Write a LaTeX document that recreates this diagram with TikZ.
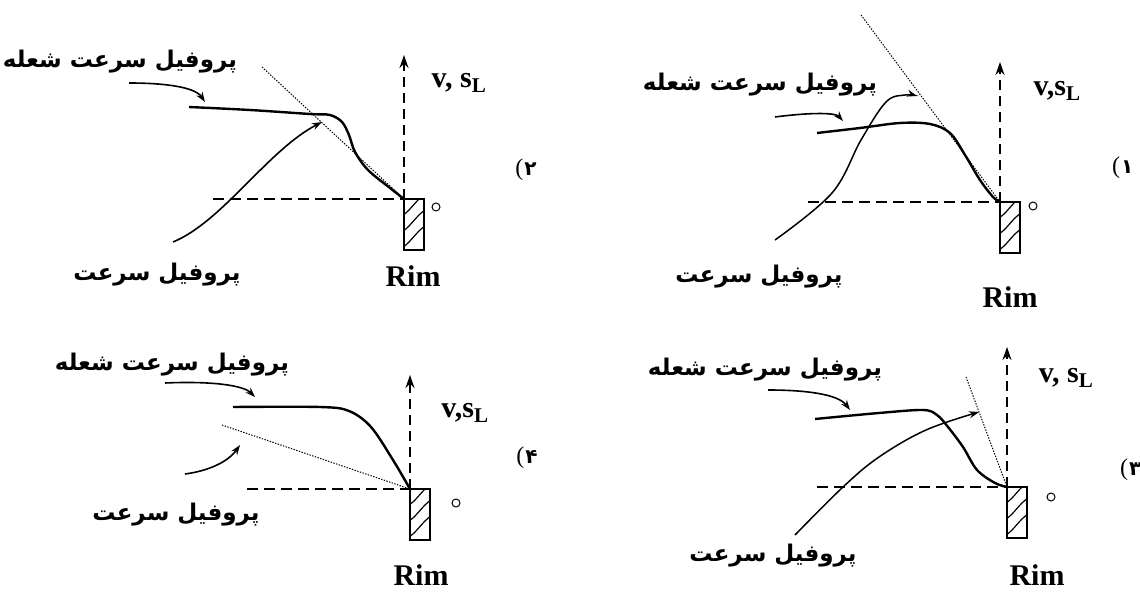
\documentclass[tikz,border=0pt]{standalone}
\usepackage{fontspec}
\setmainfont{Liberation Serif}
\newfontfamily\arabicfont[Script=Arabic]{DejaVu Sans}
\TeXXeTstate=1
\usetikzlibrary{arrows.meta}
\tikzset{
  axisline/.style={line width=1.5pt, dash pattern=on 10pt off 6pt, -{Stealth[length=13pt,width=9pt]}},
  hline/.style={line width=1.5pt, dash pattern=on 11pt off 6pt},
  flame/.style={line width=2.4pt},
  velo/.style={line width=1.5pt},
  tang/.style={line width=1pt, dash pattern=on 1.4pt off 1.4pt},
  lab/.style={line width=1.6pt, -{Stealth[length=10pt,width=7pt]}},
  fa/.style={font=\arabicfont\bfseries\fontsize{23}{27}\selectfont, inner sep=0pt},
  en/.style={font=\bfseries\fontsize{30}{34}\selectfont, inner sep=0pt},
  num/.style={font=\fontsize{24}{28}\selectfont, inner sep=0pt},
  rimrect/.style={draw, line width=1.4pt, minimum width=20pt, minimum height=51pt, inner sep=0pt, outer sep=0pt},
  zero/.style={circle, draw, line width=1pt, minimum size=8pt, inner sep=0pt}
}
\newcommand\rimbox[3]{%
  \node[rimrect, anchor=north west] (#3) at (#1,#2) {};
  \begin{scope}
    \clip (#1,#2) rectangle (#1+20,#2+51);
    \foreach \k in {16,32,48}
      \draw[line width=1.2pt] (#1-1,#2+\k) .. controls (#1+7,#2+\k-5) and (#1+12,#2+\k-15) .. (#1+21,#2+\k-21);
  \end{scope}}
\newcommand\fadigit[1]{(\kern1pt{\arabicfont\bfseries\fontsize{20}{24}\selectfont #1}}
\begin{document}
\begin{tikzpicture}[x=1pt,y=-1pt]
\clip (0,0) rectangle (1140,593);
\fill[white] (0,0) rectangle (1140,593);

% ---------------- Panel (2) top-left
\rimbox{404}{199}{rimA}
\coordinate (topA) at (404,55);
\coordinate (hA) at (213,199);
\draw[axisline] (rimA.north west) -- (topA);
\draw[hline] (hA) -- (rimA.north west);
\draw[tang] (262,67) -- (rimA.north west);
\draw[flame] plot[smooth,tension=0.55] coordinates {(189,107) (250,110) (310,114) (330,115) (342,122) (349,135) (355,152) (368,170) (390,188) (404,199)};
\coordinate (vsA) at (173,242);
\coordinate (veA) at (322,122);
\draw[lab] (vsA) .. controls (222,222) and (268,150) .. (veA);
\node[fa] (fA1) at (120,62) {\beginR پروفیل سرعت شعله\endR};
\node[fa] (fA2) at (157,275) {\beginR پروفیل سرعت\endR};
\coordinate (lsA) at (129,83);
\coordinate (leA) at (205,102);
\draw[lab] (lsA) .. controls (165,83) and (195,87) .. (leA);
\node[en] (vA) at (459,83) {v, s\textsubscript{L}};
\node[en] (RA) at (413,276) {Rim};
\node[zero] (zA) at (436,207) {};
\node[num] (nA) at (526,170) {\fadigit{۲}};

% ---------------- Panel (1) top-right
\rimbox{1000}{202}{rimB}
\coordinate (topB) at (1000,62);
\coordinate (hB) at (808,202);
\draw[axisline] (rimB.north west) -- (topB);
\draw[hline] (hB) -- (rimB.north west);
\draw[tang] (861,15) -- (rimB.north west);
\draw[flame] plot[smooth,tension=0.55] coordinates {(817,133) (860,128) (900,123) (930,124) (950,133) (965,155) (980,180) (993,197) (1000,202)};
\draw[velo,-{Stealth[length=10pt,width=7pt]}] plot[smooth,tension=0.6] coordinates {(775,240) (832,193) (861,140) (886,102) (905,95) (917,96)};
\node[fa] (fB1) at (760,85) {\beginR پروفیل سرعت شعله\endR};
\node[fa] (fB2) at (759,277) {\beginR پروفیل سرعت\endR};
\coordinate (lsB) at (775,117);
\coordinate (leB) at (843,121);
\draw[lab] (lsB) .. controls (805,113) and (835,112) .. (leB);
\node[en] (vB) at (1057,91) {v,s\textsubscript{L}};
\node[en] (RB) at (1010,297) {Rim};
\node[zero] (zB) at (1033,206) {};
\node[num, anchor=west] (nB) at (1112,168) {\fadigit{۱}};

% ---------------- Panel (4) bottom-left
\rimbox{410}{489}{rimC}
\coordinate (topC) at (410,375);
\coordinate (hC) at (247,489);
\draw[axisline] (rimC.north west) -- (topC);
\draw[hline] (hC) -- (rimC.north west);
\draw[tang] (222,425) -- (rimC.north west);
\draw[flame] plot[smooth,tension=0.55] coordinates {(233,407) (320,407) (349,411) (371,427) (393,460) (410,489)};
\node[fa] (fC1) at (172,365) {\beginR پروفیل سرعت شعله\endR};
\node[fa] (fC2) at (176,515) {\beginR پروفیل سرعت\endR};
\coordinate (lsC) at (165,383);
\coordinate (leC) at (255,397);
\draw[lab] (lsC) .. controls (210,381) and (243,385) .. (leC);
\coordinate (vsC) at (185,474);
\coordinate (veC) at (240,445);
\draw[lab] (vsC) .. controls (208,471) and (228,462) .. (veC);
\node[en] (vC) at (465,413) {v,s\textsubscript{L}};
\node[en] (RC) at (421,575) {Rim};
\node[zero] (zC) at (456,503) {};
\node[num] (nC) at (527,458) {\fadigit{۴}};

% ---------------- Panel (3) bottom-right
\rimbox{1007}{487}{rimD}
\coordinate (topD) at (1007,347);
\coordinate (hD) at (817,487);
\draw[axisline] (rimD.north west) -- (topD);
\draw[hline] (hD) -- (rimD.north west);
\draw[tang] (966,377) -- (rimD.north west);
\draw[flame] plot[smooth,tension=0.55] coordinates {(815,419) (879,413) (923,410) (937,415) (948,427) (963,447) (977,470) (995,483) (1007,487)};
\draw[velo,-{Stealth[length=10pt,width=7pt]}] plot[smooth,tension=0.6] coordinates {(795,535) (843,487) (879,457) (926,430) (979,412)};
\node[fa] (fD1) at (765,370) {\beginR پروفیل سرعت شعله\endR};
\node[fa] (fD2) at (773,556) {\beginR پروفیل سرعت\endR};
\coordinate (lsD) at (768,390);
\coordinate (leD) at (850,410);
\draw[lab] (lsD) .. controls (805,390) and (838,394) .. (leD);
\node[en] (vD) at (1066,378) {v, s\textsubscript{L}};
\node[en] (RD) at (1037,575) {Rim};
\node[zero] (zD) at (1051,497) {};
\node[num, anchor=west] (nD) at (1120,470) {\fadigit{۳}};
\end{tikzpicture}
\end{document}
